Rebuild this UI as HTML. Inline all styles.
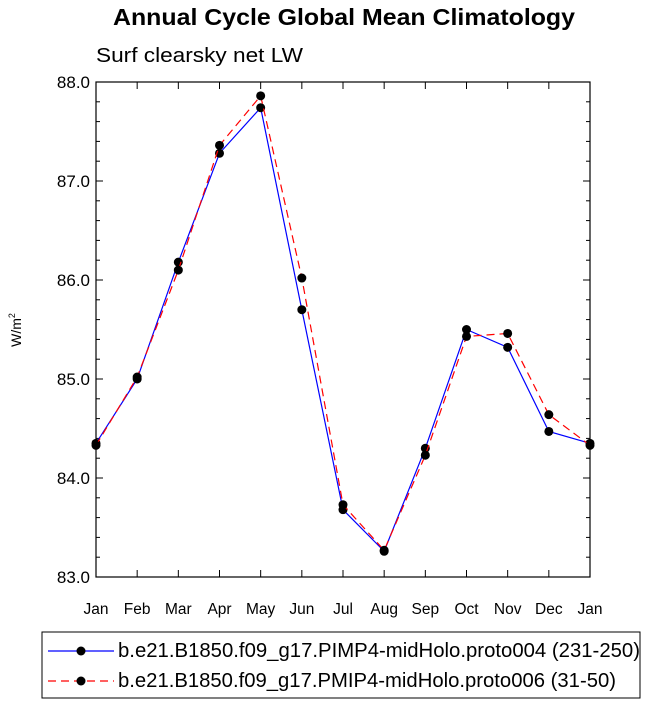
<!DOCTYPE html>
<html><head><meta charset="utf-8"><style>
body{margin:0;background:#fff;}
svg text{font-family:"Liberation Sans",Arial,sans-serif;}
</style></head><body>
<svg id="chart" width="649" height="705" viewBox="0 0 649 705">
<text x="113" y="25" font-size="23" font-weight="bold" textLength="462" lengthAdjust="spacingAndGlyphs">Annual Cycle Global Mean Climatology</text>
<text x="96" y="62" font-size="20" textLength="207" lengthAdjust="spacingAndGlyphs">Surf clearsky net LW</text>
<text transform="translate(21,330) rotate(-90)" text-anchor="middle" font-size="14">W/m<tspan font-size="9" dy="-6">2</tspan></text>
<g id="axes"></g>
<g id="series"></g>
<rect x="42" y="632" width="598" height="66" fill="none" stroke="#000" stroke-width="1"/>
<g>
<line x1="48" y1="651" x2="114" y2="651" stroke="#0000ff" stroke-width="1.2"/>
<circle cx="81" cy="651" r="4.5" fill="#000"/>
<text x="118" y="657" font-size="20" textLength="522" lengthAdjust="spacingAndGlyphs">b.e21.B1850.f09_g17.PIMP4-midHolo.proto004 (231-250)</text>
</g>
<g>
<line x1="48" y1="681" x2="114" y2="681" stroke="#ff0000" stroke-width="1.2" stroke-dasharray="8,5"/>
<circle cx="81" cy="681" r="4.5" fill="#000"/>
<text x="118" y="687" font-size="20" textLength="498" lengthAdjust="spacingAndGlyphs">b.e21.B1850.f09_g17.PMIP4-midHolo.proto006 (31-50)</text>
</g>
</svg>
<script>
const months=["Jan","Feb","Mar","Apr","May","Jun","Jul","Aug","Sep","Oct","Nov","Dec","Jan"];
const yTicks=[83,84,85,86,87,88];
const yTickLabels=["83.0","84.0","85.0","86.0","87.0","88.0"];
const blueValues=[84.35,85.00,86.18,87.28,87.74,85.70,83.68,83.26,84.30,85.50,85.32,84.47,84.35];
const redValues=[84.33,85.02,86.10,87.36,87.86,86.02,83.73,83.27,84.23,85.43,85.46,84.64,84.33];
const NS="http://www.w3.org/2000/svg";
const L=96,R=590,T=82,B=577,yMin=83,yMax=88;
function xS(i){return L+(R-L)*i/(months.length-1);}
function yS(v){return B-(v-yMin)/(yMax-yMin)*(B-T);}
function mk(tag,attrs,parent){const e=document.createElementNS(NS,tag);for(const k in attrs)e.setAttribute(k,attrs[k]);parent.appendChild(e);return e;}
const ax=document.getElementById('axes');
const frame=mk('rect',{x:L,y:T,width:R-L,height:B-T,fill:'none',stroke:'#000','stroke-width':1.2},ax);


months.forEach((m,i)=>{const x=xS(i);
mk('line',{x1:x,y1:B,x2:x,y2:B-7,stroke:'#000'},ax);
mk('line',{x1:x,y1:T,x2:x,y2:T+7,stroke:'#000'},ax);
const t=mk('text',{x:x,y:B+37,'text-anchor':'middle','font-size':15.5},ax);t.textContent=m;

});
for(let v=yMin;v<=yMax+1e-9;v+=0.2){const y=yS(v);const major=Math.abs(v-Math.round(v))<1e-6;const len=major?7:4;
mk('line',{x1:L,y1:y,x2:L+len,y2:y,stroke:'#000'},ax);
mk('line',{x1:R,y1:y,x2:R-len,y2:y,stroke:'#000'},ax);}
yTicks.forEach((v,i)=>{const t=mk('text',{x:L-6,y:yS(v)+6,'text-anchor':'end','font-size':17},ax);t.textContent=yTickLabels[i];

});
const sg=document.getElementById('series');
function draw(vals,color,dash,name){
const pts=vals.map((v,i)=>xS(i)+','+yS(v)).join(' ');
const pl=mk('polyline',{points:pts,fill:'none',stroke:color,'stroke-width':1.2,'stroke-dasharray':dash},sg);


vals.forEach((v,i)=>{const c=mk('circle',{cx:xS(i),cy:yS(v),r:4.5,fill:'#000'},sg);

});}
draw(blueValues,'#0000ff','none','proto004');
draw(redValues,'#ff0000','8,5','proto006');
</script>
</body></html>
